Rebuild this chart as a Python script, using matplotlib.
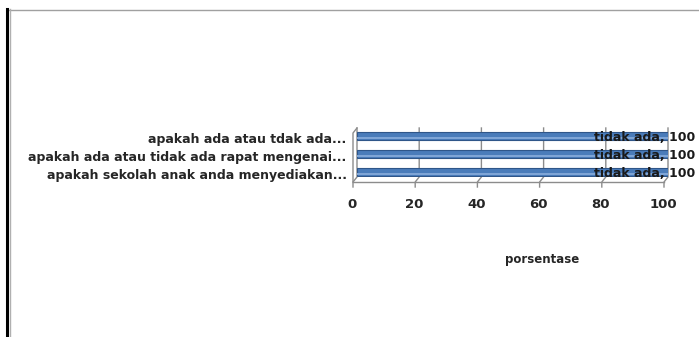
import matplotlib
matplotlib.use("Agg")
import matplotlib.pyplot as plt
import matplotlib.transforms as mtransforms
from matplotlib.lines import Line2D

# questions, listed bottom to top as barh draws them
questions = [
    "apakah sekolah anak anda menyediakan...",
    "apakah ada atau tidak ada rapat mengenai...",
    "apakah ada atau tdak ada...",
]
answers = ["tidak ada", "tidak ada", "tidak ada"]
percent = [100, 100, 100]
xticks = [0, 20, 40, 60, 80, 100]

W, H = 699, 337
fig = plt.figure(figsize=(W / 100, H / 100), dpi=100)
plt.rcParams["font.family"] = "DejaVu Sans"

# back wall of the pseudo-3d plot area, in pixels
left, right, top, bottom = 357, 668, 128, 177
ymin, ymax = -0.28, 2.44
ax = fig.add_axes([left / W, 1 - bottom / H, (right - left) / W, (bottom - top) / H])
ax.set_xlim(0, 100)
ax.set_ylim(ymin, ymax)
for s in ax.spines.values():
    s.set_visible(False)

# depth of the floor: 4 px left, 5 px down
px_x = 100 / (right - left)
px_y = (ymax - ymin) / (bottom - top)
dx, dy = 4 * px_x, 5 * px_y
grid_c = "#8c8c8c"
kw = dict(color=grid_c, lw=1.0, clip_on=False, zorder=1)

for t in xticks:
    ax.plot([t, t, t - dx, t - dx], [ymax, ymin, ymin - dy, ymin - dy - 5 * px_y], **kw)
# front axis line and left wall
ax.plot([-dx, 100 - dx], [ymin - dy, ymin - dy], **kw)
ax.plot([0, -dx, -dx], [ymax, ymax - dy, ymin - dy], **kw)

y = range(len(questions))
bh = 8.5 * px_y
ax.barh(y, percent, height=bh, color="#4a7cba", edgecolor="#2f5689", linewidth=0.8, zorder=3)
# lighter band along the lower part of each bar
ax.barh([v - bh * 0.25 for v in y], percent, height=bh * 0.22, color="#7fa5d6", linewidth=0, zorder=4)

ax.set_yticks(list(y))
ax.set_yticklabels(questions, fontsize=9, fontweight="bold", color="#262626")
ax.tick_params(axis="y", length=0, pad=7.5)
down = mtransforms.ScaledTranslation(0, -2 / 100, fig.dpi_scale_trans)
for lab in ax.get_yticklabels():
    lab.set_transform(lab.get_transform() + down)

ax.set_xticks(xticks)
ax.set_xticklabels([str(t) for t in xticks], fontsize=9.5, fontweight="bold", color="#262626")
ax.tick_params(axis="x", length=0, pad=15)
shift = mtransforms.ScaledTranslation(-5 / 100, 0, fig.dpi_scale_trans)
for lab in ax.get_xticklabels():
    lab.set_transform(lab.get_transform() + shift)

for yi, a, p in zip(y, answers, percent):
    ax.annotate(f"{a}, {p}", (p, yi), xytext=(27, -2), textcoords="offset pixels",
                ha="right", va="center", fontsize=9, fontweight="bold", color="#1a1a1a", zorder=5)

fig.text(542 / W, 1 - 259 / H, "porsentase", ha="center", va="center",
         fontsize=8.5, fontweight="bold", color="#262626")

# frame of the chart object
fig.add_artist(Line2D([8 / W, 1], [1 - 9.5 / H, 1 - 9.5 / H], color="#a0a0a0", lw=1.0))
fig.add_artist(Line2D([6.5 / W, 6.5 / W], [0, 1 - 9 / H], color="black", lw=2.2))
fig.add_artist(Line2D([9.5 / W, 9.5 / W], [0, 1 - 9 / H], color="#b0b0b0", lw=1.0))

fig.savefig("out.png", dpi=100)
